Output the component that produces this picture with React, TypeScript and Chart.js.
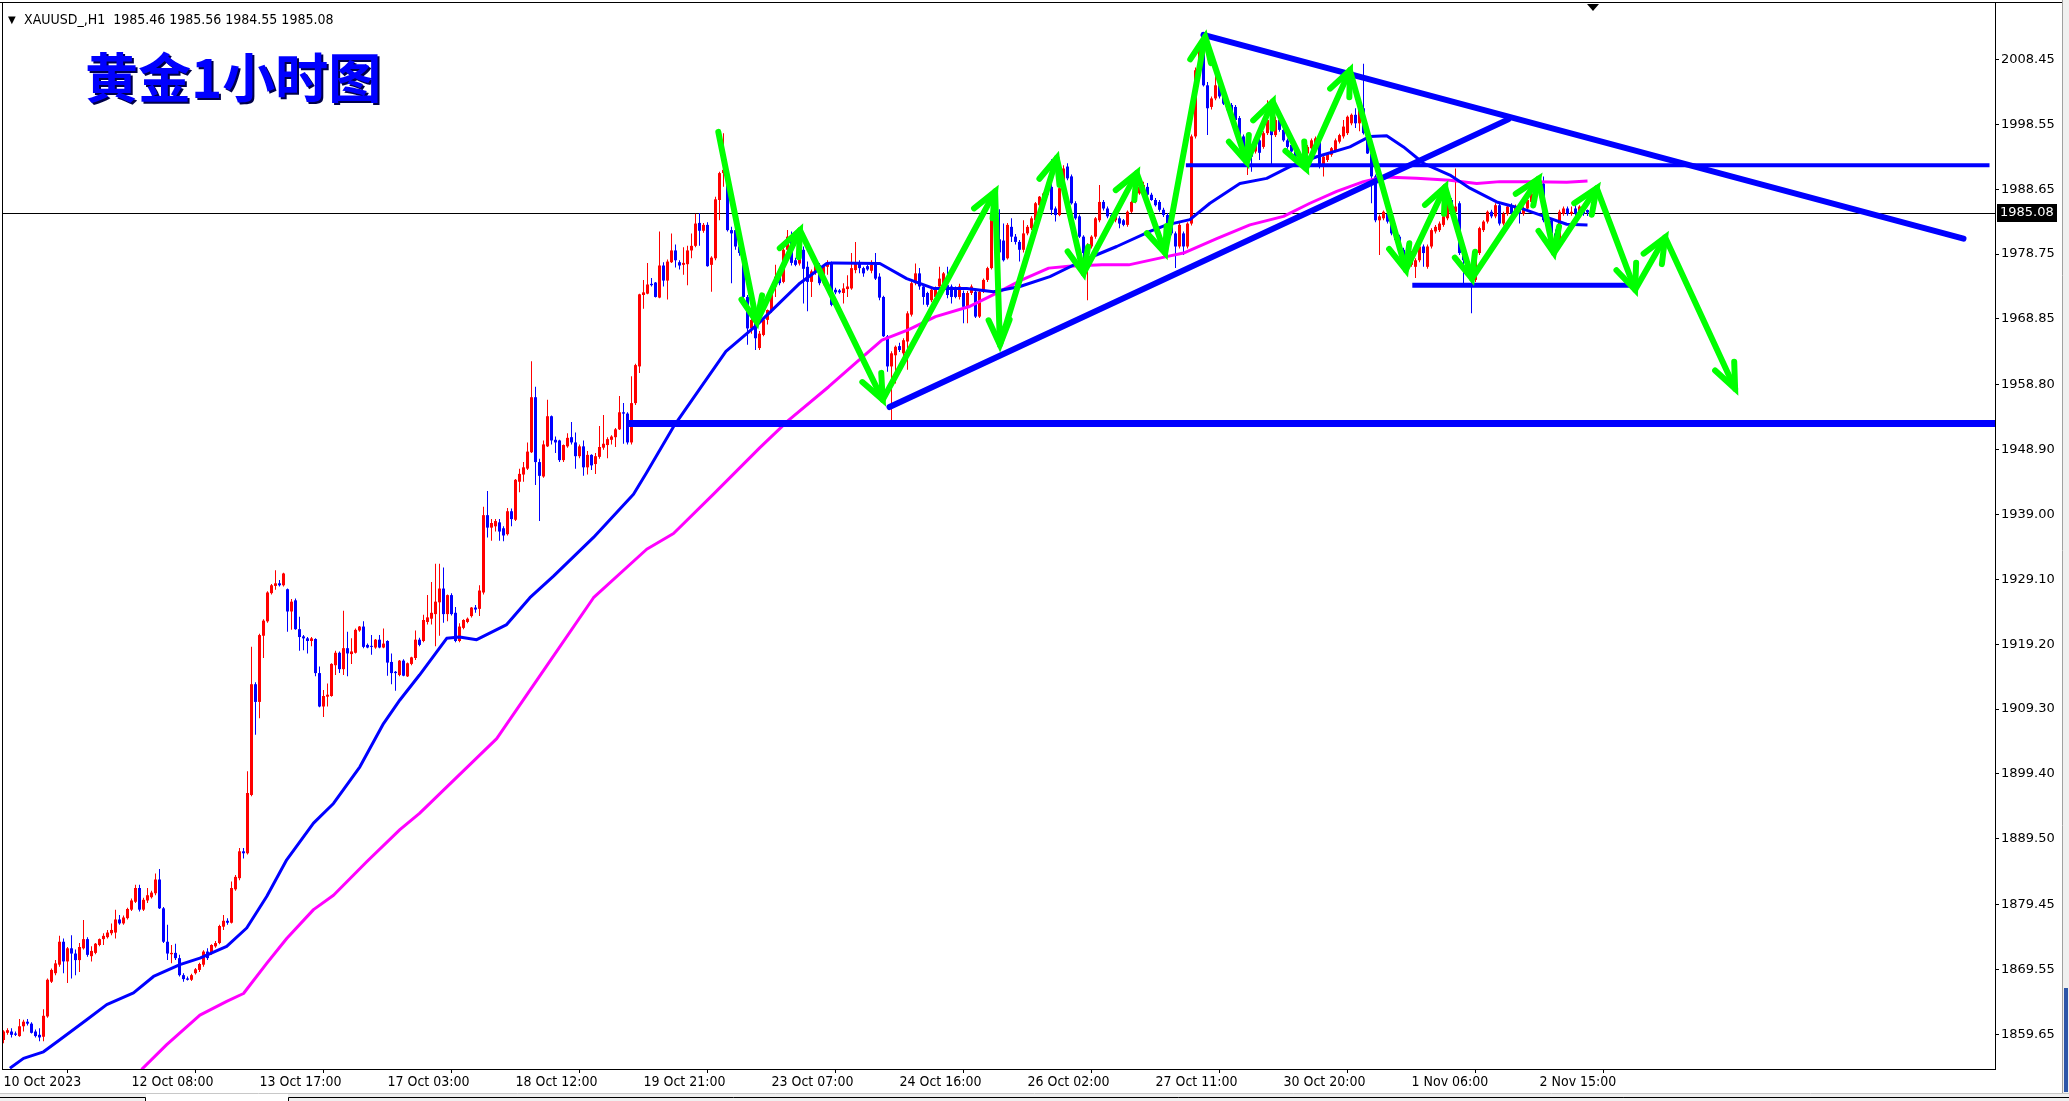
import { useEffect, useRef } from 'react';
import Chart from 'chart.js/auto';

// Axis labels (bar index -> time label, every 32 hourly bars)
const xLabels = ['10 Oct 2023', '12 Oct 08:00', '13 Oct 17:00', '17 Oct 03:00', '18 Oct 12:00', '19 Oct 21:00', '23 Oct 07:00', '24 Oct 16:00', '26 Oct 02:00', '27 Oct 11:00', '30 Oct 20:00', '1 Nov 06:00', '2 Nov 15:00'];
const xLabelBars = [0, 32, 64, 96, 128, 160, 192, 224, 256, 288, 320, 352, 384];
const yTicks = [2008.45, 1998.55, 1988.65, 1978.75, 1968.85, 1958.8, 1948.9, 1939.0, 1929.1, 1919.2, 1909.3, 1899.4, 1889.5, 1879.45, 1869.55, 1859.65];
const lastPrice = 1985.08;
const headerText = 'XAUUSD_,H1  1985.46 1985.56 1984.55 1985.08';
const titleText = '黄金1小时图';

// H1 candles: [open, high, low, close]
const candles: number[][] = [
  [1858.8, 1860.3, 1858.3, 1860.1], [1859.9, 1860.6, 1859.6, 1860.3], [1860.1, 1860.6, 1859.2, 1859.6], [1859.8, 1860.1, 1859.4, 1859.6],
  [1859.4, 1862.0, 1859.3, 1860.9], [1860.9, 1861.9, 1860.1, 1861.6], [1861.6, 1862.0, 1861.0, 1861.3], [1861.3, 1861.5, 1859.8, 1859.9],
  [1860.1, 1860.4, 1859.2, 1859.4], [1859.6, 1860.6, 1858.6, 1859.2], [1859.3, 1863.5, 1858.6, 1862.5], [1862.4, 1868.2, 1862.2, 1868.0],
  [1867.7, 1869.7, 1867.5, 1869.5], [1869.0, 1871.0, 1868.7, 1870.5], [1870.3, 1874.7, 1870.0, 1873.8], [1873.8, 1874.3, 1869.0, 1870.8],
  [1870.8, 1873.0, 1867.5, 1872.8], [1872.8, 1874.8, 1868.2, 1872.0], [1872.0, 1872.6, 1868.7, 1871.0], [1871.0, 1873.6, 1869.2, 1873.0],
  [1872.8, 1877.1, 1872.6, 1874.2], [1874.2, 1874.5, 1871.5, 1871.8], [1871.6, 1873.1, 1870.8, 1872.4], [1872.1, 1873.6, 1871.9, 1873.5],
  [1873.3, 1874.3, 1873.1, 1874.2], [1874.2, 1875.1, 1873.3, 1874.7], [1874.5, 1875.6, 1874.3, 1875.2], [1875.1, 1876.6, 1874.8, 1875.6],
  [1875.2, 1878.7, 1874.3, 1877.2], [1877.2, 1877.9, 1876.4, 1876.6], [1876.6, 1877.8, 1876.4, 1877.5], [1877.4, 1879.0, 1877.2, 1878.8],
  [1878.7, 1880.4, 1878.5, 1880.1], [1879.9, 1882.5, 1879.7, 1882.0], [1882.0, 1882.5, 1878.4, 1878.7], [1878.7, 1880.5, 1878.5, 1880.2],
  [1880.1, 1882.0, 1879.7, 1880.9], [1880.6, 1881.6, 1880.4, 1881.3], [1881.2, 1884.2, 1880.9, 1883.3], [1883.3, 1884.9, 1878.8, 1878.9],
  [1878.9, 1879.1, 1873.6, 1873.8], [1873.8, 1876.4, 1871.0, 1872.0], [1871.9, 1873.3, 1870.5, 1872.1], [1872.1, 1873.5, 1871.0, 1871.3],
  [1871.3, 1871.8, 1868.5, 1868.7], [1868.7, 1869.0, 1867.7, 1868.1], [1868.2, 1868.5, 1867.9, 1868.0], [1868.0, 1868.9, 1867.8, 1868.7],
  [1869.0, 1869.8, 1868.8, 1869.6], [1869.5, 1870.6, 1869.2, 1870.4], [1870.3, 1872.5, 1870.0, 1872.3], [1872.3, 1872.8, 1871.0, 1871.3],
  [1872.0, 1873.4, 1871.8, 1873.3], [1873.1, 1873.9, 1872.9, 1873.6], [1873.6, 1876.4, 1873.4, 1876.2], [1876.1, 1877.9, 1875.6, 1877.0],
  [1877.0, 1877.4, 1876.4, 1876.7], [1876.7, 1883.0, 1876.6, 1882.0], [1881.8, 1884.0, 1881.6, 1883.7], [1883.5, 1888.1, 1883.2, 1887.6],
  [1887.6, 1888.1, 1886.5, 1887.3], [1887.3, 1899.8, 1887.1, 1896.5], [1896.2, 1918.8, 1896.0, 1913.1], [1913.1, 1913.4, 1905.4, 1910.4],
  [1910.4, 1920.8, 1907.9, 1920.6], [1920.5, 1923.0, 1917.1, 1922.8], [1922.7, 1927.3, 1922.5, 1927.1], [1927.0, 1928.4, 1926.8, 1928.2],
  [1928.1, 1930.5, 1927.5, 1928.5], [1928.5, 1929.0, 1928.0, 1928.2], [1928.2, 1930.1, 1928.0, 1930.0], [1927.6, 1927.7, 1921.1, 1924.2],
  [1924.2, 1926.1, 1921.4, 1925.7], [1925.9, 1926.2, 1921.4, 1921.5], [1921.5, 1923.4, 1918.2, 1920.3], [1920.4, 1920.6, 1918.3, 1920.1],
  [1920.1, 1920.3, 1917.8, 1919.7], [1919.7, 1920.3, 1918.9, 1920.1], [1920.0, 1920.1, 1914.3, 1914.8], [1914.8, 1915.8, 1909.6, 1909.7],
  [1909.7, 1912.2, 1908.1, 1911.3], [1911.2, 1913.2, 1909.7, 1911.5], [1911.3, 1916.3, 1911.2, 1916.2], [1916.0, 1918.2, 1914.5, 1917.9],
  [1917.9, 1918.1, 1914.8, 1915.4], [1915.4, 1924.3, 1914.5, 1918.6], [1918.6, 1921.1, 1914.3, 1917.8], [1917.7, 1920.1, 1916.2, 1918.1],
  [1917.9, 1921.6, 1917.8, 1921.4], [1921.3, 1922.0, 1921.1, 1921.9], [1921.9, 1922.7, 1918.6, 1918.8], [1919.1, 1919.3, 1918.6, 1918.7],
  [1918.9, 1920.6, 1917.6, 1918.8], [1918.7, 1920.0, 1918.5, 1919.9], [1919.9, 1920.6, 1918.6, 1918.7], [1918.7, 1921.6, 1918.6, 1919.3],
  [1919.7, 1919.8, 1914.4, 1916.4], [1916.5, 1917.8, 1913.1, 1914.8], [1915.0, 1915.1, 1912.1, 1914.8], [1914.5, 1916.8, 1914.3, 1916.7],
  [1916.7, 1916.9, 1914.3, 1914.4], [1914.3, 1916.4, 1914.2, 1916.3], [1916.2, 1917.3, 1916.0, 1917.2], [1917.1, 1921.3, 1916.8, 1919.9],
  [1919.9, 1920.2, 1918.9, 1919.1], [1919.7, 1923.7, 1919.5, 1922.9], [1922.6, 1926.7, 1922.2, 1923.3], [1923.1, 1928.7, 1922.2, 1924.0],
  [1923.8, 1931.5, 1918.9, 1925.7], [1925.6, 1931.5, 1920.5, 1927.7], [1927.7, 1930.9, 1922.5, 1923.8], [1923.8, 1926.8, 1922.7, 1926.7],
  [1926.7, 1927.0, 1923.6, 1923.8], [1924.0, 1924.9, 1919.5, 1919.7], [1919.7, 1922.4, 1919.5, 1921.9], [1921.7, 1923.0, 1921.5, 1922.9],
  [1922.6, 1923.3, 1922.4, 1923.1], [1923.5, 1924.9, 1923.3, 1924.8], [1924.8, 1925.2, 1924.0, 1924.5], [1924.6, 1928.2, 1923.5, 1927.4],
  [1927.1, 1940.2, 1926.8, 1938.9], [1938.9, 1942.6, 1935.5, 1937.0], [1937.0, 1938.3, 1935.0, 1937.7], [1937.2, 1938.3, 1936.4, 1938.0],
  [1937.8, 1938.3, 1935.0, 1936.4], [1936.9, 1937.2, 1934.9, 1935.8], [1936.0, 1940.0, 1935.8, 1939.5], [1939.5, 1939.9, 1937.2, 1938.3],
  [1938.2, 1944.4, 1938.0, 1944.3], [1944.0, 1946.0, 1942.4, 1945.2], [1945.1, 1947.0, 1944.0, 1946.2], [1946.0, 1950.0, 1945.8, 1948.6],
  [1948.5, 1962.4, 1948.4, 1956.9], [1956.9, 1958.5, 1943.5, 1947.0], [1947.0, 1947.5, 1938.0, 1944.9], [1944.8, 1950.3, 1944.6, 1949.7],
  [1949.4, 1956.5, 1949.3, 1954.0], [1954.0, 1954.1, 1949.7, 1950.3], [1950.4, 1950.9, 1948.4, 1950.0], [1950.3, 1950.4, 1947.0, 1947.3],
  [1947.3, 1949.7, 1947.0, 1949.6], [1949.4, 1951.4, 1949.2, 1950.7], [1950.8, 1953.1, 1949.7, 1950.0], [1950.0, 1951.5, 1946.0, 1947.9],
  [1947.9, 1949.7, 1947.6, 1949.4], [1949.4, 1950.3, 1944.9, 1946.2], [1946.2, 1948.7, 1945.1, 1948.1], [1948.1, 1948.2, 1945.8, 1946.5],
  [1946.7, 1948.4, 1945.2, 1947.9], [1947.8, 1952.5, 1947.5, 1949.3], [1949.2, 1954.2, 1948.9, 1949.8], [1949.6, 1950.8, 1947.6, 1950.5],
  [1950.4, 1951.1, 1949.7, 1950.9], [1950.8, 1952.2, 1949.3, 1952.0], [1952.0, 1957.1, 1951.9, 1954.6], [1954.6, 1956.0, 1949.8, 1954.4],
  [1954.4, 1954.6, 1949.7, 1950.0], [1950.0, 1960.1, 1949.7, 1956.0], [1956.0, 1962.0, 1955.7, 1961.8], [1961.6, 1972.7, 1960.6, 1972.6],
  [1972.5, 1974.8, 1970.4, 1972.9], [1972.7, 1977.4, 1972.6, 1974.1], [1974.2, 1975.1, 1973.8, 1974.0], [1974.4, 1974.5, 1972.1, 1972.2],
  [1972.1, 1982.2, 1972.0, 1977.0], [1977.0, 1977.5, 1973.8, 1974.7], [1974.7, 1977.9, 1971.8, 1977.6], [1977.5, 1981.9, 1977.4, 1979.3],
  [1979.3, 1980.2, 1976.7, 1977.8], [1977.5, 1977.8, 1976.4, 1977.0], [1977.1, 1979.8, 1975.6, 1977.4], [1977.2, 1980.0, 1974.0, 1979.3],
  [1979.3, 1981.9, 1978.1, 1980.0], [1980.0, 1984.9, 1979.8, 1983.4], [1983.5, 1985.0, 1980.0, 1982.3], [1982.3, 1983.5, 1982.0, 1983.2],
  [1983.2, 1983.6, 1976.8, 1976.9], [1977.1, 1978.4, 1973.0, 1978.2], [1978.1, 1987.5, 1977.8, 1987.1], [1987.0, 1991.3, 1983.9, 1991.1],
  [1991.1, 1997.2, 1989.0, 1991.6], [1991.5, 1992.0, 1982.2, 1982.4], [1982.4, 1982.9, 1974.3, 1981.9], [1982.4, 1982.7, 1979.4, 1979.9],
  [1979.9, 1980.2, 1978.5, 1978.9], [1978.9, 1979.3, 1971.8, 1972.2], [1972.2, 1972.5, 1964.9, 1967.4], [1967.4, 1969.0, 1966.6, 1968.7],
  [1968.2, 1968.5, 1964.1, 1965.9], [1964.4, 1967.0, 1964.1, 1966.6], [1966.4, 1969.0, 1966.2, 1968.7], [1968.7, 1970.3, 1968.0, 1970.2],
  [1970.2, 1973.0, 1969.8, 1972.8], [1973.8, 1977.1, 1972.2, 1975.3], [1975.3, 1975.8, 1974.0, 1974.3], [1974.5, 1980.2, 1974.3, 1979.4],
  [1979.4, 1982.4, 1979.0, 1981.4], [1981.4, 1982.2, 1977.0, 1977.4], [1977.8, 1978.2, 1976.9, 1977.1], [1977.3, 1981.1, 1977.0, 1979.4],
  [1979.4, 1979.9, 1971.2, 1976.5], [1976.8, 1977.6, 1970.0, 1974.5], [1974.5, 1976.4, 1972.2, 1976.1], [1976.1, 1977.3, 1975.6, 1977.1],
  [1977.1, 1977.4, 1974.0, 1974.3], [1974.3, 1977.0, 1974.0, 1976.8], [1976.8, 1977.8, 1975.6, 1977.4], [1977.4, 1977.6, 1970.8, 1971.0],
  [1973.3, 1973.6, 1972.6, 1972.9], [1973.2, 1973.4, 1972.7, 1972.9], [1972.8, 1974.3, 1971.2, 1973.5], [1973.4, 1975.5, 1972.2, 1973.8],
  [1973.5, 1978.9, 1973.3, 1976.6], [1976.3, 1980.6, 1975.8, 1977.3], [1977.3, 1977.8, 1975.8, 1976.6], [1976.6, 1976.8, 1975.3, 1975.8],
  [1976.9, 1977.1, 1976.2, 1976.4], [1976.2, 1977.8, 1975.8, 1977.1], [1977.1, 1978.9, 1974.8, 1975.0], [1975.3, 1975.8, 1971.7, 1972.1],
  [1972.2, 1972.4, 1966.1, 1966.2], [1966.2, 1966.4, 1960.8, 1961.6], [1961.6, 1963.9, 1953.4, 1963.6], [1963.3, 1964.8, 1959.0, 1964.6],
  [1964.7, 1965.2, 1963.8, 1964.1], [1963.6, 1965.9, 1963.2, 1965.6], [1965.4, 1970.0, 1961.1, 1969.7], [1969.5, 1974.5, 1969.2, 1974.3],
  [1974.3, 1977.3, 1974.0, 1975.8], [1975.8, 1976.6, 1973.3, 1973.8], [1973.8, 1974.1, 1971.0, 1972.2], [1972.8, 1973.0, 1970.7, 1971.0],
  [1971.7, 1973.7, 1971.4, 1973.3], [1972.2, 1973.8, 1971.9, 1973.5], [1973.8, 1976.8, 1973.5, 1975.0], [1973.8, 1976.0, 1973.5, 1975.8],
  [1974.0, 1976.8, 1972.0, 1972.5], [1973.8, 1974.1, 1971.2, 1972.2], [1973.5, 1973.8, 1972.0, 1972.2], [1972.2, 1974.2, 1971.8, 1973.8],
  [1972.8, 1973.2, 1968.2, 1970.7], [1970.7, 1973.1, 1968.2, 1972.8], [1972.8, 1974.1, 1972.5, 1973.8], [1973.0, 1973.3, 1969.0, 1969.2],
  [1969.2, 1973.3, 1969.0, 1973.0], [1973.0, 1975.0, 1972.8, 1974.8], [1974.8, 1976.8, 1974.5, 1976.6], [1976.6, 1986.0, 1976.4, 1984.2],
  [1984.2, 1985.2, 1980.0, 1981.0], [1981.0, 1985.6, 1978.0, 1979.0], [1980.8, 1983.4, 1977.6, 1977.8], [1978.1, 1983.5, 1977.9, 1983.2],
  [1982.9, 1984.2, 1980.6, 1981.4], [1981.4, 1981.8, 1980.2, 1980.6], [1980.6, 1980.9, 1977.6, 1979.4], [1979.4, 1983.9, 1979.0, 1981.9],
  [1981.9, 1983.2, 1981.6, 1982.9], [1982.7, 1984.5, 1982.4, 1984.2], [1983.9, 1986.7, 1983.6, 1986.5], [1986.2, 1987.6, 1986.0, 1987.5],
  [1987.3, 1988.2, 1987.0, 1988.0], [1987.8, 1989.3, 1987.5, 1989.0], [1989.0, 1993.2, 1984.7, 1985.5], [1985.7, 1986.0, 1983.7, 1984.7],
  [1984.7, 1989.0, 1984.5, 1988.8], [1988.8, 1992.3, 1988.5, 1991.8], [1992.1, 1992.6, 1990.0, 1990.3], [1990.6, 1990.9, 1986.3, 1986.5],
  [1986.5, 1986.8, 1984.0, 1984.2], [1984.5, 1984.8, 1981.2, 1981.4], [1981.4, 1981.6, 1975.5, 1978.9], [1978.9, 1980.4, 1971.7, 1979.9],
  [1979.9, 1981.6, 1979.6, 1981.4], [1981.4, 1984.4, 1981.1, 1984.2], [1983.9, 1989.3, 1983.6, 1986.7], [1986.7, 1987.0, 1985.4, 1985.7],
  [1985.7, 1986.0, 1984.2, 1984.5], [1984.7, 1985.0, 1983.6, 1983.9], [1983.9, 1984.8, 1983.6, 1984.5], [1984.2, 1984.5, 1982.7, 1983.4],
  [1983.9, 1984.1, 1983.0, 1983.2], [1983.2, 1985.4, 1982.9, 1985.2], [1985.2, 1986.9, 1985.0, 1986.7], [1986.7, 1988.2, 1986.5, 1988.0],
  [1988.0, 1989.3, 1987.8, 1989.0], [1988.5, 1989.8, 1988.2, 1989.3], [1989.0, 1989.6, 1987.6, 1987.8], [1987.8, 1988.1, 1986.9, 1987.0],
  [1987.0, 1987.3, 1986.0, 1986.2], [1986.7, 1987.0, 1985.2, 1985.5], [1985.5, 1985.8, 1984.4, 1984.7], [1984.7, 1985.0, 1979.4, 1981.9],
  [1982.9, 1983.2, 1981.6, 1981.9], [1981.9, 1982.2, 1976.6, 1979.9], [1979.9, 1983.5, 1979.6, 1983.2], [1981.9, 1982.2, 1978.6, 1979.9],
  [1979.9, 1983.6, 1979.6, 1983.4], [1983.4, 1997.0, 1983.1, 1996.7], [1996.7, 2007.2, 1996.4, 2006.8], [2006.8, 2010.6, 2006.5, 2010.4],
  [2009.9, 2011.8, 2004.3, 2004.5], [2004.5, 2005.0, 1996.9, 2001.0], [2001.2, 2002.8, 2000.8, 2002.5], [2002.5, 2006.8, 2002.2, 2004.5],
  [2004.5, 2005.6, 2002.5, 2002.8], [2002.8, 2003.1, 2001.5, 2001.7], [2002.2, 2002.5, 2000.5, 2000.7], [2001.5, 2001.8, 2000.0, 2000.2],
  [2001.2, 2001.5, 1999.0, 1999.2], [1999.5, 1999.8, 1996.5, 1996.7], [1996.7, 1997.0, 1992.8, 1993.1], [1993.1, 1994.9, 1990.8, 1994.6],
  [1994.6, 1994.9, 1991.3, 1993.6], [1994.4, 1996.4, 1994.1, 1996.1], [1996.1, 1996.3, 1993.1, 1994.2], [1995.1, 1997.5, 1994.8, 1997.2],
  [1997.2, 2002.2, 1996.9, 1999.2], [1999.2, 1999.5, 1992.1, 1996.9], [1996.9, 1999.7, 1996.6, 1999.2], [1999.2, 1999.7, 1997.4, 1997.7],
  [1997.7, 1997.9, 1995.9, 1996.1], [1996.1, 1996.4, 1994.8, 1995.1], [1995.4, 1995.6, 1994.2, 1994.4], [1994.4, 1994.6, 1993.4, 1993.6],
  [1994.1, 1994.3, 1992.8, 1993.1], [1993.1, 1994.9, 1992.8, 1994.6], [1994.1, 1995.4, 1993.9, 1995.1], [1994.9, 1996.4, 1994.6, 1996.1],
  [1995.4, 1996.7, 1995.1, 1996.4], [1996.1, 1996.4, 1991.8, 1992.1], [1992.1, 1993.9, 1990.6, 1993.6], [1993.1, 1994.3, 1992.8, 1994.1],
  [1993.9, 1995.1, 1993.6, 1994.9], [1994.6, 1996.4, 1994.3, 1996.1], [1995.9, 1997.1, 1995.6, 1996.9], [1996.7, 1999.2, 1996.4, 1998.2],
  [1997.2, 1999.9, 1996.9, 1999.7], [1998.7, 2000.2, 1998.4, 2000.0], [2000.0, 2001.0, 1998.0, 1998.7], [1998.7, 2001.5, 1997.5, 2001.0],
  [2001.0, 2007.8, 1997.0, 1997.2], [1997.2, 1997.5, 1994.0, 1994.1], [1994.1, 1994.4, 1986.5, 1990.6], [1990.6, 1990.9, 1983.6, 1983.9],
  [1983.9, 1984.8, 1978.6, 1984.5], [1984.2, 1985.4, 1983.9, 1985.2], [1984.9, 1985.2, 1983.4, 1983.7], [1983.9, 1984.2, 1981.6, 1981.9],
  [1982.9, 1983.2, 1980.6, 1980.9], [1981.4, 1981.7, 1978.6, 1978.9], [1979.4, 1979.7, 1978.0, 1978.3], [1979.4, 1979.7, 1977.0, 1977.3],
  [1977.1, 1979.2, 1976.8, 1978.9], [1976.8, 1978.1, 1975.1, 1977.8], [1977.8, 1980.2, 1977.5, 1979.9], [1979.9, 1980.2, 1976.8, 1978.9],
  [1976.8, 1980.2, 1976.5, 1979.9], [1979.9, 1982.7, 1979.6, 1982.4], [1982.2, 1983.2, 1981.9, 1982.9], [1982.4, 1983.7, 1982.1, 1983.4],
  [1983.2, 1984.8, 1982.9, 1984.5], [1984.2, 1987.3, 1983.9, 1987.0], [1987.0, 1987.3, 1985.0, 1985.2], [1985.2, 1991.8, 1984.9, 1986.0],
  [1986.5, 1986.8, 1978.6, 1978.9], [1979.4, 1979.7, 1974.3, 1977.8], [1977.8, 1978.1, 1976.3, 1976.6], [1976.8, 1977.1, 1969.7, 1974.8],
  [1974.8, 1979.2, 1974.5, 1978.9], [1978.9, 1982.9, 1978.6, 1982.7], [1982.4, 1983.9, 1982.1, 1983.7], [1983.7, 1985.4, 1983.4, 1985.2],
  [1985.2, 1985.5, 1984.2, 1984.5], [1984.5, 1986.5, 1984.2, 1986.2], [1986.2, 1986.5, 1983.1, 1983.4], [1983.4, 1985.2, 1983.1, 1984.9],
  [1984.9, 1986.2, 1984.6, 1986.0], [1986.2, 1986.5, 1984.6, 1984.9], [1985.2, 1986.3, 1984.9, 1986.0], [1986.0, 1986.3, 1983.4, 1984.9],
  [1984.9, 1986.0, 1984.6, 1985.7], [1985.7, 1987.2, 1985.4, 1987.0], [1986.7, 1988.2, 1986.4, 1988.0], [1988.0, 1989.5, 1987.7, 1989.3],
  [1989.0, 1990.8, 1988.7, 1990.1], [1989.5, 1990.6, 1983.6, 1983.9], [1984.5, 1984.8, 1983.4, 1983.7], [1983.9, 1984.2, 1981.6, 1981.9],
  [1981.9, 1982.5, 1980.2, 1981.0], [1981.0, 1985.5, 1980.7, 1985.2], [1984.9, 1986.0, 1984.6, 1985.7], [1985.7, 1986.0, 1984.6, 1984.9],
  [1984.9, 1986.0, 1984.6, 1985.2], [1985.7, 1986.3, 1984.6, 1984.9], [1984.9, 1986.2, 1984.6, 1986.0], [1985.5, 1985.8, 1984.6, 1984.9],
  [1985.46, 1985.56, 1984.55, 1985.08],
];

// moving averages: [bar, price]
const maFast: number[][] = [
  [1.6, 1854.5], [5, 1856.0], [10, 1857.0], [14, 1858.8], [20.8, 1861.9], [25.8, 1864.2], [32.5, 1866.0], [37.5, 1868.5],
  [44.1, 1870.3], [49.1, 1871.3], [55.8, 1873.1], [60.8, 1875.9], [65.8, 1880.7], [70.8, 1886.3], [77.5, 1891.9], [82.5, 1894.9],
  [89.1, 1900.5], [95, 1907.1], [99.1, 1910.7], [104, 1914.5], [110.8, 1920.1], [114, 1920.3], [118.3, 1919.9], [125.8, 1922.2],
  [131.6, 1926.3], [137.5, 1929.6], [147.5, 1935.5], [157.5, 1942.1], [160.8, 1945.4], [167.5, 1952.4], [174.1, 1958.2], [180.6, 1963.9],
  [188.3, 1967.9], [199.1, 1974.3], [205.8, 1977.3], [207.5, 1977.4], [219.1, 1977.3], [225.8, 1975.0], [232.5, 1973.5], [240.8, 1973.5],
  [247.5, 1973.0], [254.1, 1973.8], [261.6, 1975.3], [270, 1977.8], [278.3, 1979.9], [286.6, 1982.2], [290.8, 1983.2], [296.6, 1984.0],
  [301.6, 1986.5], [309.1, 1989.5], [315.8, 1990.3], [321.6, 1992.1], [328.3, 1993.6], [336.6, 1995.1], [341.6, 1996.7], [345.8, 1996.8],
  [350, 1995.1], [355, 1992.6], [361.6, 1990.8], [366.6, 1988.8], [373.3, 1986.7], [380, 1985.6], [386.6, 1984.2], [390.8, 1983.3], [396, 1983.2],
];
const maSlow: number[][] = [
  [34.5, 1854.3], [40.8, 1858.1], [49.1, 1862.6], [55.8, 1864.7], [60, 1865.9], [65.8, 1870.5], [70.8, 1874.3], [77.5, 1878.7],
  [82.5, 1880.9], [90.8, 1886.0], [99.1, 1890.9], [104, 1893.4], [123.3, 1904.8], [135.8, 1915.9], [147.5, 1926.3], [160.8, 1933.7],
  [167.5, 1936.1], [177.5, 1942.1], [189.1, 1949.2], [196.3, 1953.4], [206.3, 1958.5], [213, 1962.1], [219.6, 1965.6], [226.3, 1967.2],
  [233, 1969.2], [241.3, 1970.7], [248, 1972.7], [254.6, 1974.8], [261.3, 1976.6], [266.3, 1976.9], [274.6, 1977.1], [281.3, 1977.1],
  [289.6, 1978.2], [295, 1978.9], [303.3, 1981.1], [311.6, 1983.2], [320, 1984.5], [326.6, 1986.5], [333.3, 1988.3], [340, 1989.8],
  [345, 1990.5], [353.3, 1990.3], [361.6, 1990.0], [368.3, 1989.5], [374.1, 1989.8], [382.5, 1989.8], [390.8, 1989.7], [396, 1989.9],
];

// hand-drawn analysis objects: [bar, price]
const supportLine = [[156, 1952.9], [497.9, 1952.9]];
const resistanceLine = [[295.6, 1992.3], [496.5, 1992.3]];
const rangeLowLine = [[352.2, 1974.0], [407.2, 1974.0]];
const risingTrend = [[221.5, 1955.4], [376.2, 1999.3]];
const fallingTrend = [[300, 2012.2], [490, 1981.1]];
const zigzag = [
  [178.7, 1997.4], [188.3, 1968.4], [199.1, 1982.4], [219.8, 1956.5], [247.9, 1988.3], [249.1, 1964.9], [263.3, 1993.4], [270.0, 1975.8],
  [283.3, 1991.1], [290.4, 1978.9], [300.4, 2011.9], [310.8, 1992.8], [317.3, 2002.0], [325.6, 1991.8], [336.6, 2006.8], [350.6, 1976.3],
  [360.4, 1989.0], [367.1, 1975.0], [383.7, 1990.2], [387.6, 1978.9], [398.3, 1988.8], [407.9, 1973.3], [415.4, 1981.3], [432.9, 1958.2],
];

const BULL = '#ff0000';
const BEAR = '#0000ff';
const GREEN = '#00ff00';
const axisFont = '"DejaVu Sans Condensed", "Liberation Sans Narrow", "DejaVu Sans", sans-serif';

const toPoints = (rows: number[][]) => rows.map(([x, y]) => ({ x, y }));

function lineSet(rows: number[][], color: string, width: number, order: number, cap = 'butt') {
  return {
    type: 'line' as const,
    data: toPoints(rows),
    borderColor: color,
    borderWidth: width,
    borderCapStyle: cap,
    borderJoinStyle: 'round',
    pointRadius: 0,
    fill: false,
    tension: 0,
    order,
  };
}

const decorPlugin = {
  id: 'mt4Decor',
  beforeDraw(chart: any) {
    const { ctx, width, height } = chart;
    ctx.save();
    ctx.fillStyle = '#ffffff';
    ctx.fillRect(0, 0, width, height);
    ctx.restore();
  },
  beforeDatasetsDraw(chart: any) {
    const { ctx, chartArea, scales } = chart;
    const y = Math.round(scales.y.getPixelForValue(lastPrice)) + 0.5;
    ctx.save();
    ctx.strokeStyle = '#000000';
    ctx.lineWidth = 1;
    ctx.beginPath();
    ctx.moveTo(chartArea.left, y);
    ctx.lineTo(chartArea.right, y);
    ctx.stroke();
    ctx.restore();
  },
  afterDatasetsDraw(chart: any) {
    // arrow heads at the end of every zigzag leg
    const { ctx, scales } = chart;
    ctx.save();
    ctx.strokeStyle = GREEN;
    ctx.lineWidth = 6;
    ctx.lineCap = 'round';
    for (let i = 1; i < zigzag.length; i++) {
      const x1 = scales.x.getPixelForValue(zigzag[i - 1][0]);
      const y1 = scales.y.getPixelForValue(zigzag[i - 1][1]);
      const x2 = scales.x.getPixelForValue(zigzag[i][0]);
      const y2 = scales.y.getPixelForValue(zigzag[i][1]);
      const ang = Math.atan2(y2 - y1, x2 - x1);
      const len = 27;
      const spread = 0.4;
      ctx.beginPath();
      ctx.moveTo(x2 - len * Math.cos(ang - spread), y2 - len * Math.sin(ang - spread));
      ctx.lineTo(x2, y2);
      ctx.lineTo(x2 - len * Math.cos(ang + spread), y2 - len * Math.sin(ang + spread));
      ctx.stroke();
    }
    ctx.restore();
  },
  afterDraw(chart: any) {
    const { ctx, chartArea, scales, width, height } = chart;
    const { left, top, right, bottom } = chartArea;
    ctx.save();

    // frame
    ctx.strokeStyle = '#000000';
    ctx.lineWidth = 1;
    ctx.strokeRect(left - 0.5, top - 0.5, right - left + 1, bottom - top + 1);
    ctx.beginPath();
    ctx.moveTo(0, top - 0.5);
    ctx.lineTo(width - 6, top - 0.5);
    ctx.stroke();

    // chart shift marker
    ctx.fillStyle = '#000000';
    ctx.beginPath();
    ctx.moveTo(1587, top + 1);
    ctx.lineTo(1599, top + 1);
    ctx.lineTo(1593, top + 8);
    ctx.closePath();
    ctx.fill();

    // header
    ctx.textBaseline = 'middle';
    ctx.font = '10px "DejaVu Sans", sans-serif';
    ctx.fillText('▼', left + 5, top + 17);
    ctx.font = '14px ' + axisFont;
    ctx.fillText(headerText, left + 21, top + 17);

    // title with shadow
    ctx.font = 'bold 53px "Noto Sans CJK SC", sans-serif';
    ctx.textBaseline = 'middle';
    ctx.fillStyle = '#00004a';
    ctx.fillText(titleText, 87, 80);
    ctx.fillStyle = '#0000ff';
    ctx.fillText(titleText, 85, 78);

    // current price label
    const py = scales.y.getPixelForValue(lastPrice);
    ctx.fillStyle = '#000000';
    ctx.fillRect(right + 2, Math.round(py) - 9, 60, 18);
    ctx.fillStyle = '#ffffff';
    ctx.font = '13px "DejaVu Sans", sans-serif';
    ctx.textAlign = 'left';
    ctx.fillText(lastPrice.toFixed(2), right + 5, Math.round(py));

    // window edges
    ctx.fillStyle = '#f0f0f0';
    ctx.fillRect(width - 6, 0, 6, height);
    ctx.fillStyle = '#2d56a8';
    ctx.fillRect(width - 5, 988, 4, 104);
    ctx.strokeStyle = '#a0a0a0';
    ctx.beginPath();
    ctx.moveTo(width - 6.5, 0);
    ctx.lineTo(width - 6.5, height);
    ctx.stroke();
    ctx.fillStyle = '#f0f0f0';
    ctx.fillRect(0, 1094, width, height - 1094);
    ctx.strokeStyle = '#c8c8c8';
    ctx.beginPath();
    ctx.moveTo(0, 1093.5);
    ctx.lineTo(width, 1093.5);
    ctx.stroke();
    ctx.strokeStyle = '#000000';
    ctx.beginPath();
    ctx.moveTo(0, 1097.5);
    ctx.lineTo(145.5, 1097.5);
    ctx.lineTo(145.5, 1101);
    ctx.moveTo(288.5, 1101);
    ctx.lineTo(288.5, 1097.5);
    ctx.lineTo(width, 1097.5);
    ctx.stroke();
    ctx.fillStyle = '#ffffff';
    ctx.fillRect(146, 1094, 142, 7);
    ctx.restore();
  },
};

export default function App() {
  const chartRef = useRef<HTMLCanvasElement>(null);
  const chartInstance = useRef<Chart | null>(null);

  useEffect(() => {
    document.body.style.margin = '0';
    document.body.style.overflow = 'hidden';
    if (!chartRef.current) return;
    if (chartInstance.current) {
      chartInstance.current.destroy();
    }
    const ctx = chartRef.current.getContext('2d');
    if (!ctx) return;

    const colors = candles.map(([o, , , c]) => (c < o ? BEAR : BULL));
    const wicks = candles.map(([, h, l], i) => ({ x: i, y: [l, h] }));
    const bodies = candles.map(([o, , , c], i) => ({ x: i, y: [o, c] }));

    chartInstance.current = new Chart(ctx, {
      type: 'line',
      data: {
        datasets: [
          {
            type: 'bar',
            data: wicks as any,
            backgroundColor: colors,
            borderWidth: 0,
            grouped: false,
            barPercentage: 1,
            categoryPercentage: 1,
            maxBarThickness: 1,
            inflateAmount: 0,
            order: 20,
          },
          {
            type: 'bar',
            data: bodies as any,
            backgroundColor: colors,
            borderWidth: 0,
            grouped: false,
            barPercentage: 1,
            categoryPercentage: 1,
            maxBarThickness: 3,
            minBarLength: 1,
            inflateAmount: 0,
            order: 19,
          },
          lineSet(maSlow, '#ff00ff', 3, 12),
          lineSet(maFast, '#0000ff', 3, 11),
          lineSet(supportLine, '#0000ff', 7, 6),
          lineSet(resistanceLine, '#0000ff', 4, 5),
          lineSet(rangeLowLine, '#0000ff', 5, 5),
          lineSet(risingTrend, '#0000ff', 6, 4, 'round'),
          lineSet(fallingTrend, '#0000ff', 6, 4, 'round'),
          lineSet(zigzag, GREEN, 6, 1, 'round'),
        ] as any,
      },
      options: {
        responsive: false,
        animation: false,
        events: [],
        layout: { padding: { left: 3, top: 3, right: 0, bottom: 0 } },
        plugins: {
          legend: { display: false },
          tooltip: { enabled: false },
        },
        scales: {
          x: {
            type: 'linear',
            min: -0.125,
            max: 497.875,
            offset: false,
            border: { display: false },
            grid: { drawOnChartArea: false, drawTicks: true, tickLength: 4, color: '#000000' },
            ticks: {
              autoSkip: false,
              maxRotation: 0,
              align: 'start',
              padding: 1,
              color: '#000000',
              font: { family: axisFont, size: 14 },
              callback: (_v: any, i: number) => xLabels[i],
            },
            afterBuildTicks: (scale: any) => {
              scale.ticks = xLabelBars.map((v) => ({ value: v }));
            },
            afterFit: (scale: any) => {
              scale.height = 32;
              scale.paddingLeft = 0;
              scale.paddingRight = 0;
            },
          },
          y: {
            type: 'linear',
            position: 'right',
            min: 1854.38,
            max: 2017.06,
            border: { display: false },
            grid: { drawOnChartArea: false, drawTicks: true, tickLength: 4, color: '#000000' },
            ticks: {
              padding: 2,
              color: '#000000',
              font: { family: '"DejaVu Sans", sans-serif', size: 13 },
              callback: (v: any) => Number(v).toFixed(2),
            },
            afterBuildTicks: (scale: any) => {
              scale.ticks = yTicks.map((v) => ({ value: v }));
            },
            afterFit: (scale: any) => {
              scale.width = 74;
              scale.paddingTop = 0;
              scale.paddingBottom = 0;
            },
          },
        },
      },
      plugins: [decorPlugin],
    } as any);

    return () => {
      if (chartInstance.current) {
        chartInstance.current.destroy();
        chartInstance.current = null;
      }
    };
  }, []);

  return (
    <div style={{ width: 2069, height: 1101 }}>
      <canvas ref={chartRef} width={2069} height={1101} />
    </div>
  );
}
